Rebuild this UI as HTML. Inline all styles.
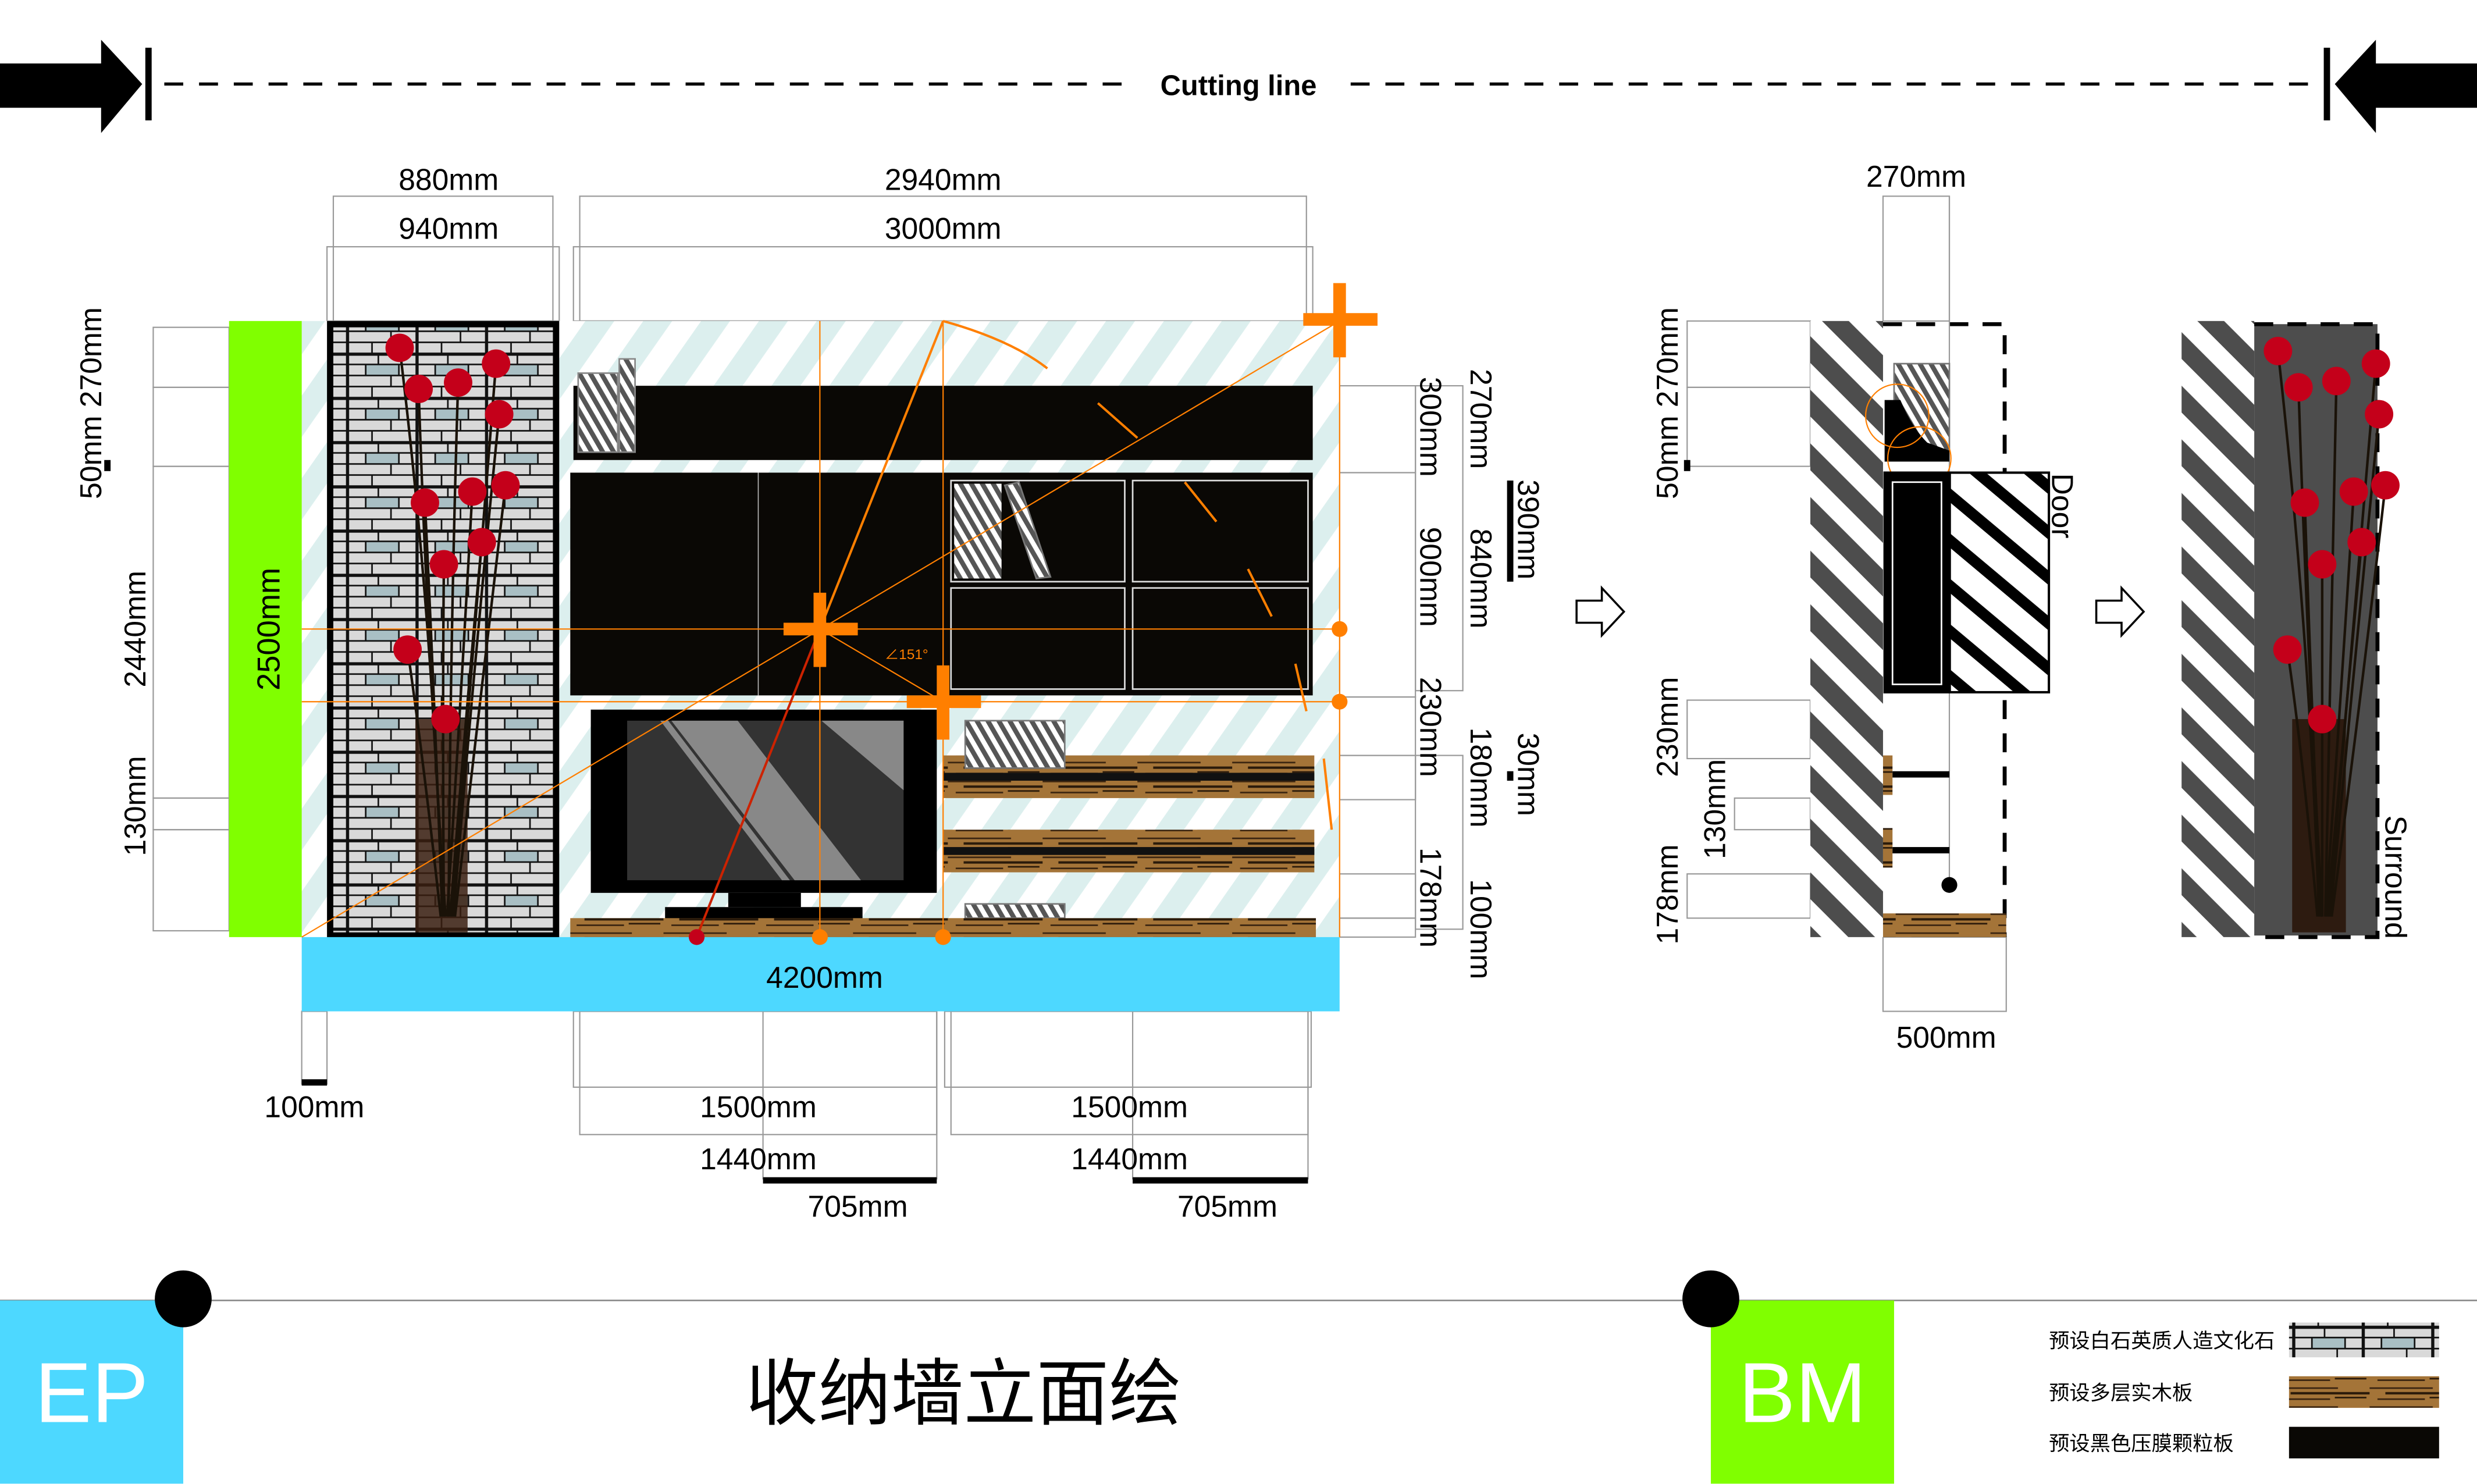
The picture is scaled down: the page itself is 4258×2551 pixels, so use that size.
<!DOCTYPE html>
<html><head><meta charset="utf-8"><style>
html,body{margin:0;padding:0;background:#fff;}
svg{display:block;}
text{font-family:"Liberation Sans","Noto Sans CJK SC",sans-serif;}
</style></head><body>
<svg width="4258" height="2551" viewBox="0 0 1568 939" xmlns="http://www.w3.org/2000/svg">
<defs>
<pattern id="teal" patternUnits="userSpaceOnUse" width="30" height="30" patternTransform="rotate(35)">
<rect width="30" height="30" fill="#fff"/><rect width="15" height="30" fill="#dcefee"/></pattern>
<pattern id="bw" patternUnits="userSpaceOnUse" width="24" height="24" patternTransform="rotate(-45)">
<rect width="24" height="24" fill="#fff"/><rect width="12" height="24" fill="#4d4d4d"/></pattern>
<pattern id="bw2" patternUnits="userSpaceOnUse" width="22" height="22" patternTransform="rotate(-50)">
<rect width="22" height="22" fill="#fff"/><rect width="7" height="22" fill="#000"/></pattern>
<pattern id="hatchg" patternUnits="userSpaceOnUse" width="6" height="6" patternTransform="rotate(-30)">
<rect width="6" height="6" fill="#fff"/><rect width="3" height="6" fill="#555"/></pattern>
<pattern id="stone" patternUnits="userSpaceOnUse" width="44" height="28">
<rect width="44" height="28" fill="#111"/>
<rect x="1" y="1" width="18" height="5" fill="#d9d9d9"/><rect x="20" y="1" width="23" height="5" fill="#d9d9d9"/>
<rect x="1" y="7" width="10" height="6" fill="#d9d9d9"/><rect x="12" y="7" width="20" height="6" fill="#a9bfc4"/><rect x="33" y="7" width="10" height="6" fill="#d9d9d9"/>
<rect x="1" y="14" width="26" height="6" fill="#d9d9d9"/><rect x="28" y="14" width="15" height="6" fill="#d9d9d9"/>
<rect x="1" y="21" width="14" height="6" fill="#d9d9d9"/><rect x="16" y="21" width="27" height="6" fill="#d9d9d9"/>
</pattern>
<pattern id="wood" patternUnits="userSpaceOnUse" width="60" height="12">
<rect width="60" height="12" fill="#a47438"/>
<rect x="0" y="2" width="40" height="1" fill="#3a2410"/><rect x="10" y="5" width="50" height="1.5" fill="#2a1a0a"/>
<rect x="5" y="9" width="30" height="1" fill="#3a2410"/><rect x="38" y="8" width="20" height="1" fill="#2a1a0a"/>
</pattern>
</defs>

<!-- cutting line -->
<polygon points="0,40 64,40 64,25 90,53 64,84 64,68 0,68" fill="#000"/>
<rect x="92" y="30" width="4" height="46" fill="#000"/>
<line x1="104" y1="53" x2="715" y2="53" stroke="#000" stroke-width="2" stroke-dasharray="12,10"/>
<line x1="855" y1="53" x2="1465" y2="53" stroke="#000" stroke-width="2" stroke-dasharray="12,10"/>
<text x="784" y="60" font-size="18" font-weight="bold" text-anchor="middle">Cutting line</text>
<polygon points="1568,40 1504,40 1504,25 1478,53 1504,84 1504,68 1568,68" fill="#000"/>
<rect x="1471" y="30" width="4" height="46" fill="#000"/>

<!-- dimension boxes top -->
<g fill="none" stroke="#999" stroke-width="0.8">
<rect x="211" y="124" width="139" height="79"/><rect x="207" y="156" width="147" height="47"/>
<rect x="367" y="124" width="460" height="79"/><rect x="363" y="156" width="468" height="47"/>
<rect x="97" y="207" width="48" height="38"/><rect x="97" y="245" width="48" height="50"/>
<rect x="97" y="295" width="48" height="210"/><rect x="97" y="505" width="48" height="20"/><rect x="97" y="525" width="48" height="64"/>
<rect x="848" y="244" width="48" height="55"/><rect x="848" y="299" width="48" height="142"/><rect x="848" y="441" width="48" height="37"/><rect x="848" y="478" width="48" height="28"/><rect x="848" y="553" width="48" height="28"/><rect x="848" y="581" width="48" height="12"/>
<rect x="896" y="244" width="30" height="193"/><rect x="896" y="478" width="30" height="110"/>
<rect x="191" y="640" width="16" height="46"/>
<rect x="367" y="640" width="226" height="78"/><rect x="363" y="640" width="230" height="48"/><rect x="483" y="640" width="110" height="106"/>
<rect x="602" y="640" width="226" height="78"/><rect x="598" y="640" width="232" height="48"/><rect x="717" y="640" width="111" height="106"/>
</g>
<rect x="66" y="291" width="4" height="7" fill="#000"/>
<rect x="191" y="683" width="16" height="4" fill="#000"/>
<rect x="483" y="745" width="110" height="4" fill="#000"/>
<rect x="717" y="745" width="111" height="4" fill="#000"/>
<rect x="954" y="304" width="4" height="64" fill="#000"/>
<rect x="954" y="488" width="4" height="6" fill="#000"/>

<g font-size="19" text-anchor="middle">
<text x="284" y="120">880mm</text><text x="284" y="151">940mm</text>
<text x="597" y="120">2940mm</text><text x="597" y="151">3000mm</text>
<text x="199" y="707">100mm</text>
<text x="480" y="707">1500mm</text><text x="480" y="740">1440mm</text><text x="543" y="770">705mm</text>
<text x="715" y="707">1500mm</text><text x="715" y="740">1440mm</text><text x="777" y="770">705mm</text>
<text transform="translate(64,255) rotate(-90)">50mm 270mm</text>
<text transform="translate(92,398) rotate(-90)">2440mm</text>
<text transform="translate(92,510) rotate(-90)">130mm</text>
<text transform="translate(899,270) rotate(90)">300mm</text>
<text transform="translate(931,265) rotate(90)">270mm</text>
<text transform="translate(961,335) rotate(90)">390mm</text>
<text transform="translate(899,365) rotate(90)">900mm</text>
<text transform="translate(931,366) rotate(90)">840mm</text>
<text transform="translate(899,460) rotate(90)">230mm</text>
<text transform="translate(931,492) rotate(90)">180mm</text>
<text transform="translate(961,490) rotate(90)">30mm</text>
<text transform="translate(899,568) rotate(90)">178mm</text>
<text transform="translate(931,588) rotate(90)">100mm</text>
</g>

<!-- main elevation -->
<rect x="191" y="203" width="657" height="390" fill="url(#teal)"/>
<rect x="145" y="203" width="46" height="390" fill="#80ff00"/>
<text transform="translate(177,398) rotate(-90)" font-size="20" text-anchor="middle">2500mm</text>
<rect x="209" y="205" width="143" height="387" fill="url(#stone)" stroke="#000" stroke-width="4"/>
<rect x="191" y="593" width="657" height="47" fill="#4dd8ff"/>
<text x="522" y="625" font-size="19" text-anchor="middle">4200mm</text>

<rect x="363" y="244" width="468" height="47" fill="#0a0805"/>
<rect x="366" y="236" width="25" height="50" fill="url(#hatchg)" stroke="#888"/>
<rect x="392" y="227" width="10" height="59" fill="url(#hatchg)" stroke="#888"/>
<rect x="361" y="299" width="470" height="141" fill="#0a0805"/>
<line x1="480" y1="299" x2="480" y2="440" stroke="#bbb" stroke-width="0.6"/>
<g fill="none" stroke="#ddd" stroke-width="1"><rect x="602" y="304" width="110" height="64"/><rect x="717" y="304" width="111" height="64"/><rect x="602" y="372" width="110" height="64"/><rect x="717" y="372" width="111" height="64"/></g>
<rect x="604" y="306" width="30" height="60" fill="url(#hatchg)"/>
<polygon points="636,307 645,305 665,365 656,366" fill="url(#hatchg)" stroke="#777"/>

<rect x="374" y="449" width="219" height="116" fill="#000"/>
<rect x="397" y="456" width="175" height="101" fill="#333"/>
<polygon points="425,456 467,456 545,557 503,557" fill="#888"/><polygon points="418,456 423,456 500,557 495,557" fill="#888"/>
<polygon points="520,456 572,456 572,500" fill="#888"/>
<rect x="461" y="565" width="46" height="9" fill="#000"/><rect x="421" y="574" width="125" height="8" fill="#000"/>

<rect x="597" y="478" width="235" height="27" fill="url(#wood)"/><rect x="597" y="489" width="235" height="5" fill="#111"/>
<rect x="597" y="525" width="235" height="27" fill="url(#wood)"/><rect x="597" y="536" width="235" height="5" fill="#111"/>
<rect x="611" y="456" width="63" height="30" fill="url(#hatchg)" stroke="#777"/>
<rect x="611" y="572" width="63" height="9" fill="url(#hatchg)" stroke="#777"/>
<rect x="361" y="581" width="472" height="12" fill="url(#wood)"/>

<!-- vase & flowers -->
<rect x="263" y="455" width="33" height="135" fill="#3a1f10" opacity="0.85"/>
<g stroke="#1a1208" stroke-width="1.6" fill="none">
<path d="M280,580 Q275,400 253,220"/><path d="M282,580 Q270,400 265,246"/><path d="M284,580 Q285,400 290,242"/><path d="M286,580 Q300,400 314,230"/><path d="M287,580 Q300,420 316,262"/><path d="M280,580 Q275,440 269,318"/><path d="M283,580 Q292,440 299,311"/><path d="M288,580 Q305,440 320,307"/><path d="M281,580 Q280,450 281,357"/><path d="M285,580 Q295,450 305,343"/><path d="M279,580 Q268,480 258,411"/>
</g>
<g fill="#c4001a"><circle cx="253" cy="220" r="9"/><circle cx="265" cy="246" r="9"/><circle cx="290" cy="242" r="9"/><circle cx="314" cy="230" r="9"/><circle cx="316" cy="262" r="9"/><circle cx="269" cy="318" r="9"/><circle cx="299" cy="311" r="9"/><circle cx="320" cy="307" r="9"/><circle cx="281" cy="357" r="9"/><circle cx="305" cy="343" r="9"/><circle cx="258" cy="411" r="9"/><circle cx="282" cy="455" r="9"/></g>

<!-- orange guides -->
<g stroke="#ff7f00" fill="none" stroke-width="0.8">
<line x1="191" y1="398" x2="848" y2="398"/><line x1="191" y1="444" x2="848" y2="444"/>
<line x1="519" y1="203" x2="519" y2="593"/><line x1="597" y1="203" x2="597" y2="593"/>
<line x1="848" y1="210" x2="848" y2="593"/>
<line x1="191" y1="593" x2="848" y2="203"/><line x1="519" y1="398" x2="597" y2="444"/>
<line x1="519" y1="398" x2="597" y2="203" stroke-width="1.5"/>
<path d="M597,203 Q640,215 663,233" stroke-width="1.5"/>
<line x1="695" y1="255" x2="720" y2="277" stroke-width="1.5"/><line x1="750" y1="305" x2="770" y2="330" stroke-width="1.5"/><line x1="790" y1="360" x2="805" y2="390" stroke-width="1.5"/><line x1="820" y1="420" x2="827" y2="450" stroke-width="1.5"/><line x1="838" y1="480" x2="843" y2="525" stroke-width="1.5"/>
</g>
<line x1="519" y1="398" x2="441" y2="593" stroke="#cc2200" stroke-width="1.5"/>
<text x="560" y="417" font-size="9" fill="#ff7f00">∠151°</text>
<g fill="#ff7f00">
<rect x="496" y="394" width="47" height="8"/><rect x="515" y="375" width="8" height="47"/>
<rect x="574" y="440" width="47" height="8"/><rect x="593" y="421" width="8" height="47"/>
<rect x="825" y="198" width="47" height="8"/><rect x="844" y="179" width="8" height="47"/>
<circle cx="848" cy="398" r="5"/><circle cx="848" cy="444" r="5"/><circle cx="519" cy="593" r="5"/><circle cx="597" cy="593" r="5"/>
</g>
<circle cx="441" cy="593" r="5" fill="#c4001a"/>

<!-- hollow arrows -->
<polygon points="998,380 1014,380 1014,372 1028,387 1014,402 1014,394 998,394" fill="#fff" stroke="#000" stroke-width="1.3"/>
<polygon points="1327,380 1343,380 1343,372 1357,387 1343,402 1343,394 1327,394" fill="#fff" stroke="#000" stroke-width="1.3"/>

<!-- section -->
<g fill="none" stroke="#999" stroke-width="0.8">
<rect x="1192" y="124" width="42" height="79"/>
<rect x="1068" y="203" width="78" height="42"/><rect x="1068" y="245" width="78" height="50"/>
<rect x="1068" y="443" width="78" height="37"/><rect x="1098" y="505" width="48" height="20"/><rect x="1068" y="553" width="78" height="28"/>
<rect x="1192" y="593" width="78" height="47"/>
</g>
<rect x="1066" y="291" width="4" height="7" fill="#000"/>
<g font-size="19" text-anchor="middle">
<text x="1213" y="118">270mm</text><text x="1232" y="663">500mm</text>
<text transform="translate(1062,255) rotate(-90)">50mm 270mm</text>
<text transform="translate(1062,460) rotate(-90)">230mm</text>
<text transform="translate(1092,512) rotate(-90)">130mm</text>
<text transform="translate(1062,566) rotate(-90)">178mm</text>
<text transform="translate(1299,320) rotate(90)">Door</text>
<text transform="translate(1510,555) rotate(90)">Surround</text>
</g>
<rect x="1146" y="203" width="46" height="390" fill="url(#bw)"/>
<path d="M1192,205 H1269 V593" fill="none" stroke="#000" stroke-width="2.5" stroke-dasharray="12,9"/>
<line x1="1234" y1="124" x2="1234" y2="560" stroke="#999" stroke-width="0.8"/>
<rect x="1199" y="230" width="35" height="55" fill="url(#hatchg)" stroke="#777"/>
<path d="M1193,253 H1203 Q1210,270 1220,280 L1234,285 V292 H1193 Z" fill="#000"/>
<circle cx="1201" cy="263" r="20" fill="none" stroke="#ff7f00" stroke-width="0.8"/>
<circle cx="1215" cy="290" r="20" fill="none" stroke="#ff7f00" stroke-width="0.8"/>
<rect x="1193" y="299" width="104" height="139" fill="url(#bw2)" stroke="#000" stroke-width="1.5"/>
<rect x="1193" y="299" width="42" height="139" fill="#000"/>
<rect x="1198" y="305" width="31" height="128" fill="none" stroke="#fff" stroke-width="1"/>
<rect x="1192" y="478" width="6" height="25" fill="url(#wood)"/><rect x="1198" y="488" width="36" height="4" fill="#000"/>
<rect x="1192" y="524" width="6" height="25" fill="url(#wood)"/><rect x="1198" y="536" width="36" height="4" fill="#000"/>
<circle cx="1234" cy="560" r="5" fill="#000"/>
<rect x="1192" y="578" width="78" height="15" fill="url(#wood)"/>

<!-- surround -->
<rect x="1381" y="203" width="46" height="390" fill="url(#bw)"/>
<rect x="1427" y="205" width="78" height="387" fill="#4d4d4d"/>
<path d="M1427,205 H1505 V593 H1427" fill="none" stroke="#000" stroke-width="2.5" stroke-dasharray="12,9"/>
<rect x="1451" y="455" width="34" height="135" fill="#2a160a" opacity="0.9"/>
<g stroke="#1a1208" stroke-width="1.6" fill="none">
<path d="M1468,580 Q1462,400 1442,222"/><path d="M1470,580 Q1460,400 1455,245"/><path d="M1472,580 Q1475,400 1479,241"/><path d="M1474,580 Q1490,400 1504,230"/><path d="M1475,580 Q1490,420 1506,262"/><path d="M1469,580 Q1463,440 1459,318"/><path d="M1472,580 Q1482,440 1490,311"/><path d="M1476,580 Q1495,440 1510,307"/><path d="M1470,580 Q1470,450 1470,357"/><path d="M1473,580 Q1485,450 1495,343"/><path d="M1467,580 Q1458,480 1448,411"/>
</g>
<g fill="#c4001a"><circle cx="1442" cy="222" r="9"/><circle cx="1455" cy="245" r="9"/><circle cx="1479" cy="241" r="9"/><circle cx="1504" cy="230" r="9"/><circle cx="1506" cy="262" r="9"/><circle cx="1459" cy="318" r="9"/><circle cx="1490" cy="311" r="9"/><circle cx="1510" cy="307" r="9"/><circle cx="1470" cy="357" r="9"/><circle cx="1495" cy="343" r="9"/><circle cx="1448" cy="411" r="9"/><circle cx="1470" cy="455" r="9"/></g>

<!-- footer -->
<line x1="0" y1="823" x2="1568" y2="823" stroke="#888" stroke-width="1"/>
<rect x="0" y="823" width="116" height="116" fill="#4dd8ff"/>
<text x="58" y="900" font-size="54" fill="#fff" text-anchor="middle">EP</text>
<circle cx="116" cy="822" r="18" fill="#000"/>
<text x="610" y="898" font-size="46" text-anchor="middle">收纳墙立面绘</text>
<rect x="1083" y="823" width="116" height="116" fill="#80ff00"/>
<text x="1141" y="900" font-size="54" fill="#fff" text-anchor="middle">BM</text>
<circle cx="1083" cy="822" r="18" fill="#000"/>
<g font-size="13">
<text x="1297" y="853">预设白石英质人造文化石</text>
<text x="1297" y="886">预设多层实木板</text>
<text x="1297" y="918">预设黑色压膜颗粒板</text>
</g>
<rect x="1449" y="837" width="95" height="22" fill="url(#stone)"/>
<rect x="1449" y="871" width="95" height="20" fill="url(#wood)"/>
<rect x="1449" y="903" width="95" height="20" fill="#0a0805"/>
</svg>
</body></html>
